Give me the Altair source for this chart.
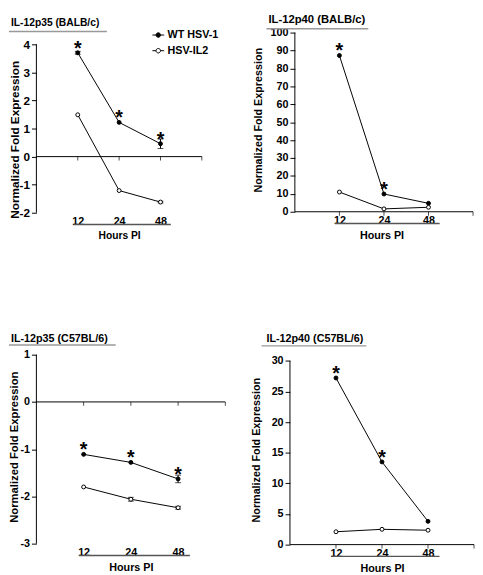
import altair as alt
import pandas as pd

FONT = "Liberation Sans"

hours = ["12", "24", "48"]
series = ["WT HSV-1", "HSV-IL2"]
titles = ["IL-12p35 (BALB/c)", "IL-12p40 (BALB/c)", "IL-12p35 (C57BL/6)", "IL-12p40 (C57BL/6)"]

# IL-12p35 (BALB/c)
tl_wt = [3.70, 1.22, 0.46]
tl_wt_err = [0.05, 0.0, 0.17]
tl_il2 = [1.49, -1.21, -1.62]
tl_il2_err = [0.0, 0.0, 0.03]
tl_star = [True, True, True]
tl_ticks = [-2, -1, 0, 1, 2, 3, 4]

# IL-12p40 (BALB/c)
tr_wt = [87.2, 9.9, 4.7]
tr_wt_err = [0.0, 0.0, 0.0]
tr_il2 = [11.0, 1.6, 2.5]
tr_il2_err = [0.0, 0.0, 0.0]
tr_star = [True, True, False]
tr_ticks = [0, 10, 20, 30, 40, 50, 60, 70, 80, 90, 100]

# IL-12p35 (C57BL/6)
bl_wt = [-1.11, -1.28, -1.63]
bl_wt_err = [0.0, 0.0, 0.08]
bl_il2 = [-1.80, -2.06, -2.24]
bl_il2_err = [0.0, 0.04, 0.03]
bl_star = [True, True, True]
bl_ticks = [-3, -2, -1, 0, 1]

# IL-12p40 (C57BL/6)
br_wt = [27.2, 13.5, 3.8]
br_wt_err = [0.0, 0.0, 0.0]
br_il2 = [2.1, 2.5, 2.35]
br_il2_err = [0.0, 0.0, 0.0]
br_star = [True, True, False]
br_ticks = [0, 5, 10, 15, 20, 25, 30]

LABEL_EXPR = "[''," + ",".join("'%s'" % h for h in hours) + "][datum.value]"
YLABEL_EXPR = "datum.value < 0 ? '-' + abs(datum.value) : '' + datum.value"
XEND = len(hours) + 1

LEGEND_SYMBOL = ("M-1,0H-0.38M0.38,0H1"
                 "M0.38,0A0.38,0.38,0,1,1,-0.38,0A0.38,0.38,0,1,1,0.38,0Z")


def panel(title, wt, wt_err, il2, il2_err, star, yticks, p):
    rows = []
    for i, hr in enumerate(hours):
        rows.append(dict(idx=i + 1, hour=hr, series=series[0], value=wt[i],
                         err=wt_err[i], star=star[i]))
        rows.append(dict(idx=i + 1, hour=hr, series=series[1], value=il2[i],
                         err=il2_err[i], star=False))
    df = pd.DataFrame(rows)
    df["lo"] = df["value"] - df["err"]
    df["hi"] = df["value"] + df["err"]

    xs = alt.Scale(domain=p["xdom"], nice=False, zero=False)
    ys = alt.Scale(domain=p["ydom"], nice=False, zero=False)

    xaxis = alt.Axis(values=list(range(1, len(hours) + 1)), labelExpr=LABEL_EXPR,
                     domain=False, ticks=False, tickSize=0, grid=False,
                     title="Hours PI", labelPadding=p["lp"], titlePadding=p["tp"],
                     labelFontSize=p["xfs"], titleFontSize=p["xtfs"], labelFlush=False,
                     labelOverlap=False)
    yaxis = alt.Axis(values=yticks, labelExpr=YLABEL_EXPR,
                     domain=False, tickSize=5,
                     tickColor="black", tickWidth=1, grid=False,
                     title="Normalized Fold Expression",
                     titleX=p["tx"], titleY=p["ty"], titleAlign="center",
                     titleBaseline="middle", titleFontSize=p["ytfs"],
                     labelFontSize=p["yfs"], labelPadding=2, offset=p["yoff"],
                     labelFlush=False, labelOverlap=False)

    base = alt.Chart(df)
    one = alt.Chart(pd.DataFrame({"k": [0]}))

    x = alt.X("idx:Q", scale=xs, axis=xaxis)
    y = alt.Y("value:Q", scale=ys, axis=yaxis)

    yline = one.mark_rule(color="black", strokeWidth=1).encode(
        x=alt.XDatum(0, scale=xs, axis=xaxis),
        y=alt.YDatum(yticks[0], scale=ys, axis=yaxis),
        y2=alt.Y2Datum(yticks[-1]))
    zline = one.mark_rule(color="black", strokeWidth=1).encode(
        x=alt.XDatum(0, scale=xs, axis=xaxis), x2=alt.X2Datum(XEND),
        y=alt.YDatum(0, scale=ys, axis=yaxis))
    xticks = alt.Chart(pd.DataFrame({"t": list(range(1, XEND + 1))})).mark_tick(
        orient="vertical", size=4, thickness=1, yOffset=2, color="black").encode(
        x=alt.X("t:Q", scale=xs, axis=xaxis), y=alt.YDatum(0, scale=ys, axis=yaxis))
    line = base.mark_line(color="black", strokeWidth=1).encode(
        x=x, y=y, detail="series:N")
    eb = base.transform_filter("datum.err > 0")
    err = eb.mark_rule(color="black", strokeWidth=1).encode(
        x=x, y=alt.Y("lo:Q", scale=ys, axis=yaxis), y2="hi:Q")
    cap_lo = eb.mark_tick(orient="horizontal", size=6, thickness=1, color="black").encode(
        x=x, y=alt.Y("lo:Q", scale=ys, axis=yaxis))
    cap_hi = eb.mark_tick(orient="horizontal", size=6, thickness=1, color="black").encode(
        x=x, y=alt.Y("hi:Q", scale=ys, axis=yaxis))
    if p["legend"]:
        legend = alt.Legend(orient="none", legendX=p["lx"], legendY=p["ly"], title=None,
                            symbolType=LEGEND_SYMBOL, symbolSize=144,
                            symbolStrokeColor="black", symbolStrokeWidth=1,
                            labelFont=FONT, labelFontWeight="bold", labelFontSize=11,
                            labelColor="black", rowPadding=4, labelOffset=3)
    else:
        legend = None
    pts = base.mark_point(filled=True, shape="circle", size=16, stroke="black",
                          strokeWidth=1, opacity=1).encode(
        x=x, y=y,
        fill=alt.Fill("series:N", scale=alt.Scale(domain=series, range=["black", "white"]),
                      legend=legend))
    stars = base.transform_filter("datum.star").mark_text(
        text="*", fontSize=20, fontWeight="bold", font=FONT, baseline="alphabetic",
        dy=2, color="black").encode(x=x, y=y)
    tul = one.mark_rule(color="#999999", strokeWidth=1.5).encode(
        x=alt.value(p["u0"]), x2=alt.value(p["u1"]), y=alt.value(p["uy"]))
    xul = one.mark_rule(color="#555555", strokeWidth=1.5).encode(
        x=alt.XDatum(0.9, scale=xs, axis=xaxis), x2=alt.X2Datum(3.25),
        y=alt.value(p["h"] + 12))

    return alt.layer(line, yline, zline, xticks, err, cap_lo, cap_hi, pts, stars, tul, xul).properties(
        width=p["w"], height=p["h"],
        title=alt.TitleParams(title, anchor="start", frame="group", dx=p["dx"],
                              offset=p["toff"], fontSize=p["tfs"], font=FONT,
                              fontWeight="bold", color="black"))


tl = panel(titles[0], tl_wt, tl_wt_err, tl_il2, tl_il2_err, tl_star, tl_ticks,
           dict(w=169, h=184, xdom=[0, XEND], ydom=[-2, 4.42], yoff=0, lp=3, tp=4,
                xfs=11, xtfs=10.5, yfs=12, ytfs=12, tx=-22, ty=109, dx=-26, toff=0,
                tfs=10.5, u0=-28, u1=72, uy=-1, legend=True, lx=118, ly=-4))
tr = panel(titles[1], tr_wt, tr_wt_err, tr_il2, tr_il2_err, tr_star, tr_ticks,
           dict(w=187, h=183, xdom=[-0.11, XEND], ydom=[0, 100], yoff=-5, lp=3, tp=4,
                xfs=11, xtfs=11, yfs=11, ytfs=11, tx=-37, ty=89, dx=-22, toff=1,
                tfs=11.5, u0=-24, u1=80, uy=-4, legend=False))
bl = panel(titles[2], bl_wt, bl_wt_err, bl_il2, bl_il2_err, bl_star, bl_ticks,
           dict(w=193, h=193, xdom=[0, XEND], ydom=[-3, 1], yoff=0, lp=3, tp=4,
                xfs=11, xtfs=11, yfs=11, ytfs=11.5, tx=-22, ty=94, dx=-26, toff=0,
                tfs=11, u0=-28, u1=81, uy=-10, legend=False))
br = panel(titles[3], br_wt, br_wt_err, br_il2, br_il2_err, br_star, br_ticks,
           dict(w=188, h=194, xdom=[0, XEND], ydom=[0, 31], yoff=0, lp=3, tp=4,
                xfs=11, xtfs=11, yfs=11, ytfs=11, tx=-34, ty=97, dx=-24, toff=1,
                tfs=11, u0=-29, u1=78, uy=-9, legend=False))

chart = alt.concat(tl, tr, bl, br, columns=2,
                   spacing=alt.RowColnumber(row=94, column=25)).resolve_scale(
    fill="independent").properties(padding=0).configure_view(stroke=None).configure_axis(
    labelFont=FONT, labelFontWeight="bold", labelColor="black",
    titleFont=FONT, titleFontWeight="bold", titleColor="black", labelOverlap=False)

chart.save("out.html", embed_options={"renderer": "svg", "actions": False})
